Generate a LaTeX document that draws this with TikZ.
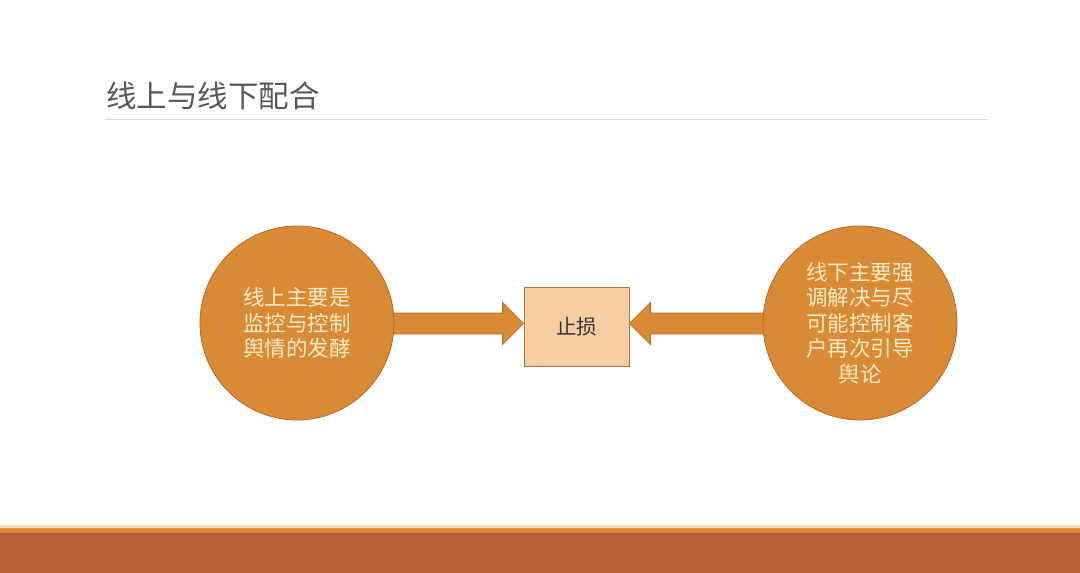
\documentclass[tikz,border=0pt]{standalone}
\usepackage{fontspec}
\setmainfont{Noto Sans CJK SC}
\usetikzlibrary{calc}
\definecolor{circfill}{HTML}{D98A35}
\definecolor{circline}{HTML}{B9692A}
\definecolor{boxfill}{HTML}{F7CDA2}
\definecolor{boxline}{HTML}{A8764A}
\definecolor{circtext}{HTML}{FBEBC6}
\definecolor{titlegray}{HTML}{595959}
\definecolor{rulegray}{HTML}{D9D9D9}
\definecolor{barorange}{HTML}{E08A35}
\definecolor{barbrown}{HTML}{B35F37}
\definecolor{barlight}{HTML}{F3DDB8}
\tikzset{
  circnode/.style={circle, fill=circfill, draw=circline, line width=0.8pt, minimum size=194pt, inner sep=0pt, text=circtext, font=\fontsize{21.5}{25.5}\selectfont, align=center},
  boxnode/.style={rectangle, fill=boxfill, draw=boxline, line width=0.8pt, minimum width=105pt, minimum height=79pt, inner sep=0pt, text=black!80, font=\fontsize{20.5}{24}\selectfont},
  fatarrow/.style={fill=circfill, draw=circline, line width=0.8pt, line join=miter},
}
\begin{document}
\begin{tikzpicture}[x=1pt,y=-1pt]
\useasboundingbox (0,0) rectangle (1080,573);
\fill[white] (0,0) rectangle (1080,573);
% title
\node[anchor=base west, inner sep=0pt, text=titlegray, font=\fontsize{30.5}{34}\selectfont] (title) at (106,107) {线上与线下配合};
\coordinate (ruleL) at (105,119);
\coordinate (ruleR) at (988,119);
\draw[rulegray, line width=1pt] (ruleL) -- (ruleR);
% bottom bar
\fill[barlight] (0,525) rectangle (1080,527.5);
\fill[barorange] (0,527.5) rectangle (1080,533);
\fill[barbrown] (0,533) rectangle (1080,573);
% nodes
\node[boxnode] (B) at (576.5,326.5) {止损};
\coordinate (Lc) at (297,323.5);
\coordinate (Rc) at (860,323.5);
\coordinate (tipL) at (B.west |- Lc);
\coordinate (tipR) at (B.east |- Rc);
% arrows (behind circles)
\draw[fatarrow] ($(tipL)+(-140,-10.5)$) -- ($(tipL)+(-21,-10.5)$) -- ($(tipL)+(-21,-21)$) -- (tipL) -- ($(tipL)+(-21,21)$) -- ($(tipL)+(-21,10.5)$) -- ($(tipL)+(-140,10.5)$) -- cycle;
\draw[fatarrow] ($(tipR)+(140,-10.5)$) -- ($(tipR)+(21,-10.5)$) -- ($(tipR)+(21,-21)$) -- (tipR) -- ($(tipR)+(21,21)$) -- ($(tipR)+(21,10.5)$) -- ($(tipR)+(140,10.5)$) -- cycle;
\node[circnode] (L) at (297,323) {线上主要是\\监控与控制\\舆情的发酵};
\node[circnode] (R) at (860,323) {线下主要强\\调解决与尽\\可能控制客\\户再次引导\\舆论};
\end{tikzpicture}
\end{document}
